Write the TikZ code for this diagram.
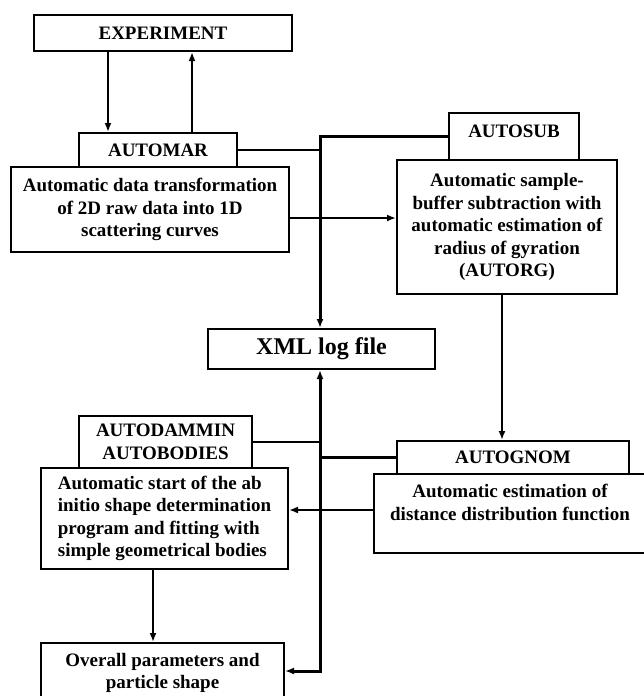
\documentclass[tikz,border=0pt]{standalone}
\usepackage{fontspec}
\setmainfont{Liberation Serif}
\usetikzlibrary{arrows.meta}
\tikzstyle{box}=[draw,line width=2pt,inner sep=2pt,anchor=north west,align=center,font=\bfseries\fontsize{19}{22.5}\selectfont]
\tikzstyle{bighead}=[font=\bfseries\fontsize{24}{28}\selectfont]
\tikzstyle{connhead}=[>/.tip={Latex[length=9pt,width=7pt]}]
\tikzstyle{conn}=[line width=2.2pt,connhead]
\tikzstyle{arr}=[conn,->]
\tikzstyle{bus}=[line width=3pt,connhead]
\begin{document}
\begin{tikzpicture}[x=1pt,y=-1pt]
	\useasboundingbox (0,0) rectangle (643,696);
	% boxes
	\node[box,minimum width=258,minimum height=36]  (exper)   at (33,14)   {EXPERIMENT};
	\node[box,minimum width=158,minimum height=34]  (automar) at (78,132)  {AUTOMAR};
	\node[box,minimum width=278,minimum height=85]  (automardesc) at (10,166)
		{Automatic data transformation\\of 2D raw data into 1D\\scattering curves};
	\node[box,minimum width=130,minimum height=47,text depth=10pt] (autosub) at (448,112) {AUTOSUB};
	\node[box,minimum width=220,minimum height=134] (autosubdesc) at (396,159)
		{Automatic sample-\\buffer subtraction with\\automatic estimation of\\radius of gyration\\(AUTORG)};
	\node[box,bighead,minimum width=227,minimum height=40] (xml) at (207,328) {XML log file};
	\node[box,minimum width=232,minimum height=33]  (autognom) at (396,440) {AUTOGNOM};
	\node[box,minimum width=272,minimum height=79]  (autognomdesc) at (373,473)
		{Automatic estimation of\\distance distribution function\\\mbox{}};
	\node[box,minimum width=173,minimum height=52]  (autodammin) at (78,415) {AUTODAMMIN\\AUTOBODIES};
	\node[box,align=left,minimum width=247,minimum height=101] (autodammindesc) at (40,467)
		{Automatic start of the ab\\initio shape determination\\program and fitting with\\simple geometrical bodies};
	\node[box,minimum width=243,minimum height=60] (overall) at (40,642) {Overall parameters and\\particle shape};
	% guide coordinates
	\coordinate (bus) at (320,0);
	\coordinate (dn)  at (108,0);
	\coordinate (up)  at (192,0);
	\coordinate (gx)  at (502,0);
	\coordinate (dx)  at (153,0);
	\coordinate (row1) at (0,218);
	\coordinate (row2) at (0,510);
	\coordinate (busbot) at (0,671);
	% connectors
	\draw[arr] (exper.south -| dn) -- (automar.north -| dn);
	\draw[arr] (automar.north -| up) -- (exper.south -| up);
	\draw[conn] (automar.east) -- (automar.east -| bus);
	\draw[bus,->] (autosub.west) -| (xml.north -| bus);
	\draw[arr] (automardesc.east |- row1) -- (autosubdesc.west |- row1);
	\draw[arr] (autosubdesc.south -| gx) -- (autognom.north -| gx);
	\draw[conn] (autognom.west) -- (autognom.west -| bus);
	\draw[conn] (autodammin.east) -- (autodammin.east -| bus);
	\draw[arr] (autognomdesc.west |- row2) -- (autodammindesc.east |- row2);
	\draw[bus,<->] (overall.east |- busbot) -| (xml.south -| bus);
	\draw[arr] (autodammindesc.south -| dx) -- (overall.north -| dx);
\end{tikzpicture}
\end{document}
